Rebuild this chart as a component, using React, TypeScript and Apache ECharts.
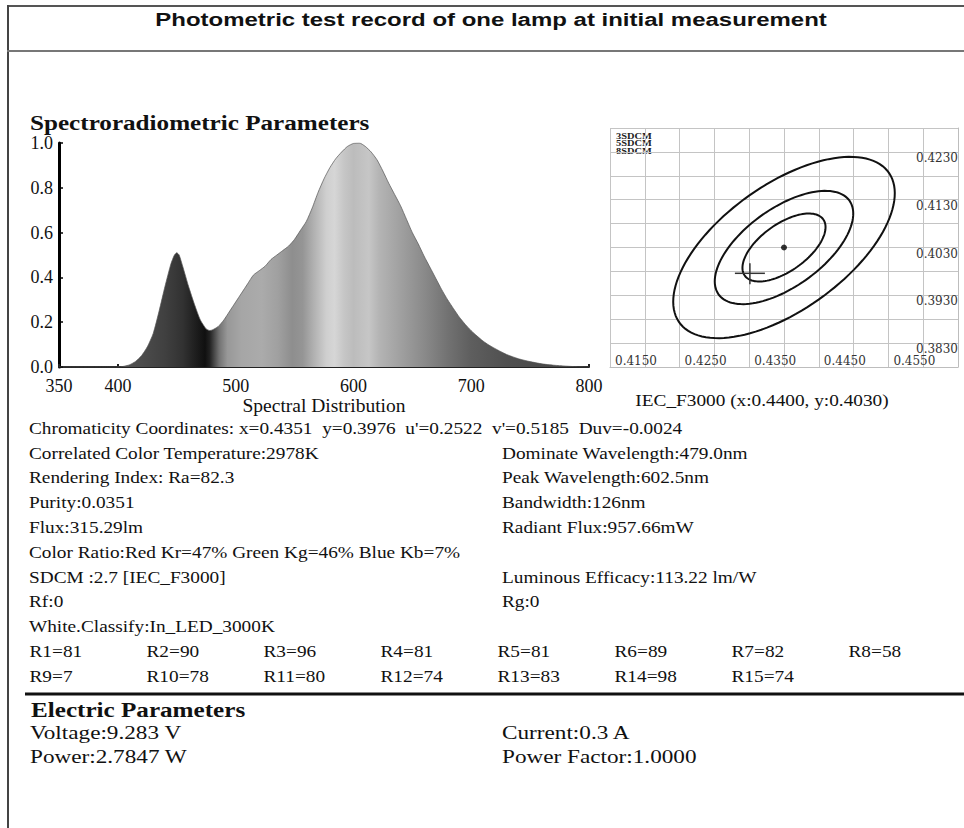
import React, { useEffect, useRef } from 'react';
import * as echarts from 'echarts';

// ---------- data ----------
const wavelengths = [350, 390, 400, 405, 410, 415, 420, 425, 430, 435, 440, 445, 448, 450, 452, 455, 460, 465, 470, 475, 478, 480, 485, 490, 495, 500, 505, 510, 515, 520, 525, 530, 535, 540, 545, 550, 555, 560, 565, 570, 575, 580, 585, 590, 595, 600, 605, 610, 615, 620, 625, 630, 635, 640, 645, 650, 655, 660, 665, 670, 675, 680, 685, 690, 695, 700, 705, 710, 715, 720, 725, 730, 735, 740, 745, 750, 760, 770, 780, 790, 800];
const intensities = [0, 0, 0, 0.003, 0.01, 0.025, 0.05, 0.09, 0.15, 0.25, 0.36, 0.46, 0.5, 0.51, 0.5, 0.45, 0.36, 0.28, 0.21, 0.17, 0.163, 0.165, 0.18, 0.21, 0.25, 0.29, 0.33, 0.37, 0.41, 0.43, 0.45, 0.48, 0.5, 0.52, 0.54, 0.57, 0.61, 0.65, 0.71, 0.78, 0.84, 0.89, 0.93, 0.96, 0.985, 0.998, 1.0, 0.985, 0.96, 0.925, 0.875, 0.82, 0.77, 0.72, 0.66, 0.6, 0.55, 0.495, 0.445, 0.395, 0.345, 0.3, 0.26, 0.222, 0.19, 0.162, 0.138, 0.116, 0.098, 0.083, 0.069, 0.056, 0.046, 0.037, 0.03, 0.024, 0.014, 0.008, 0.004, 0.001, 0];
const spectrumXLabels = [350, 400, 500, 600, 700, 800];

const ellipseCenter = [0.44, 0.403];
const ellipseA = 0.00278; // per SDCM step
const ellipseB = 0.00136;
const ellipseThetaDeg = 53.2;
const sdcmSteps = [3, 5, 8];
const sdcmLabels = ['3SDCM', '5SDCM', '8SDCM'];
const measuredPoint = [0.4351, 0.3976];

const titleText = 'Photometric test record of one lamp at initial measurement';
const spectroHeading = 'Spectroradiometric Parameters';
const electricHeading = 'Electric Parameters';
const targetLabel = 'IEC_F3000 (x:0.4400, y:0.4030)';

const leftLines = [
  "Chromaticity Coordinates: x=0.4351  y=0.3976  u'=0.2522  v'=0.5185  Duv=-0.0024",
  'Correlated Color Temperature:2978K',
  'Rendering Index: Ra=82.3',
  'Purity:0.0351',
  'Flux:315.29lm',
  'Color Ratio:Red Kr=47% Green Kg=46% Blue Kb=7%',
  'SDCM :2.7 [IEC_F3000]',
  'Rf:0',
  'White.Classify:In_LED_3000K',
];
const rightLines: [number, string][] = [
  [1, 'Dominate Wavelength:479.0nm'],
  [2, 'Peak Wavelength:602.5nm'],
  [3, 'Bandwidth:126nm'],
  [4, 'Radiant Flux:957.66mW'],
  [6, 'Luminous Efficacy:113.22 lm/W'],
  [7, 'Rg:0'],
];
const rValues = [81, 90, 96, 81, 81, 89, 82, 58, 7, 78, 80, 74, 83, 98, 74];
const electricLeft = ['Voltage:9.283 V', 'Power:2.7847 W'];
const electricRight = ['Current:0.3 A', 'Power Factor:1.0000'];

// ---------- styles ----------
const serif = '"Liberation Serif", "Times New Roman", serif';
const sans = '"Liberation Sans", Arial, sans-serif';
const gradNm = [350, 400, 420, 440, 455, 466, 474, 478, 486, 493, 505, 522, 536, 548, 557, 566, 577, 584, 592, 600, 613, 622, 640, 660, 680, 700, 730, 800];
const gradGray = [0x55, 0x55, 0x4c, 0x40, 0x32, 0x1e, 0x10, 0x22, 0x72, 0x98, 0xa6, 0xab, 0xa0, 0x8e, 0x95, 0xb0, 0xcf, 0xd6, 0xc6, 0xbc, 0xc6, 0xb4, 0xa0, 0x8a, 0x72, 0x5e, 0x50, 0x44];

function gray(v: number) {
  const h = v.toString(16).padStart(2, '0');
  return '#' + h + h + h;
}

function txt(text: string, x: number, y: number, size: number, o: any = {}) {
  const align = o.align || 'left';
  return {
    type: 'text',
    x,
    y,
    scaleX: o.scaleX ?? 1.17,
    silent: true,
    style: {
      text,
      fontSize: size,
      fontFamily: o.family || serif,
      fontWeight: o.weight || 'normal',
      fill: o.fill || '#111',
      align,
      textAlign: align,
      verticalAlign: 'middle',
      textVerticalAlign: 'middle',
    },
  };
}

function hline(x1: number, x2: number, y: number, color: string, w: number) {
  return { type: 'line', silent: true, shape: { x1, y1: y, x2, y2: y }, style: { stroke: color, lineWidth: w } };
}
function vline(x: number, y1: number, y2: number, color: string, w: number) {
  return { type: 'line', silent: true, shape: { x1: x, y1, x2: x, y2 }, style: { stroke: color, lineWidth: w } };
}

function buildGraphic() {
  const g: any[] = [];
  g.push(hline(7, 964, 6, '#555', 2));
  g.push(vline(8, 5, 828, '#444', 2));
  g.push(hline(7, 964, 51, '#777', 2));
  g.push(hline(25, 964, 694, '#111', 3));

  g.push(txt(titleText, 491, 19, 19, { family: sans, weight: 'bold', align: 'center', scaleX: 1.263 }));
  g.push(txt(spectroHeading, 30, 123, 21.5, { weight: 'bold', scaleX: 1.17 }));
  g.push(txt(targetLabel, 762, 400, 16.5, { align: 'center' }));

  sdcmLabels.forEach((s, i) => {
    g.push(txt(s, 616, 136 + i * 7.8, 8, { scaleX: 1.3, fill: '#222', weight: 'bold' }));
  });

  const row0 = 428.3;
  const rowStep = 24.8;
  leftLines.forEach((line, i) => {
    g.push(txt(line, 29, row0 + i * rowStep, 16.5));
  });
  rightLines.forEach(([i, line]) => {
    g.push(txt(line, 502, row0 + i * rowStep, 16.5));
  });
  rValues.forEach((v, i) => {
    const row = i < 8 ? 9 : 10;
    const col = i < 8 ? i : i - 8;
    g.push(txt('R' + (i + 1) + '=' + v, 29.5 + col * 117, row0 + row * rowStep, 16.5));
  });

  g.push(txt(electricHeading, 31, 710, 21.5, { weight: 'bold', scaleX: 1.17 }));
  electricLeft.forEach((s, i) => g.push(txt(s, 30, 733 + i * 24, 19.5, { scaleX: 1.19 })));
  electricRight.forEach((s, i) => g.push(txt(s, 502, 733 + i * 24, 19.5, { scaleX: 1.19 })));
  return g;
}

function buildOption() {
  const specData = wavelengths.map((w, i) => [w, intensities[i]]);
  const span = wavelengths[wavelengths.length - 1] - wavelengths[0];
  const stops = gradNm.map((nm, i) => ({ offset: (nm - wavelengths[0]) / span, color: gray(gradGray[i]) }));
  const th = (ellipseThetaDeg * Math.PI) / 180;

  return {
    animation: false,
    backgroundColor: '#ffffff',
    graphic: buildGraphic(),
    grid: [
      { left: 59, top: 143, width: 530, height: 224 },
      { left: 610, top: 128, width: 348, height: 239 },
    ],
    xAxis: [
      {
        type: 'value',
        gridIndex: 0,
        min: 350,
        max: 800,
        interval: 50,
        name: 'Spectral Distribution',
        nameLocation: 'middle',
        nameGap: 27,
        nameTextStyle: { fontFamily: serif, fontSize: 19.5, color: '#111' },
        axisLine: { show: true, lineStyle: { color: '#222', width: 2 } },
        axisTick: { show: true, inside: true, length: 3, lineStyle: { color: '#222', width: 2 } },
        splitLine: { show: false },
        axisLabel: {
          margin: 10,
          fontFamily: serif,
          fontSize: 18,
          color: '#111',
          showMinLabel: true,
          showMaxLabel: true,
          formatter: (v: number) => (spectrumXLabels.indexOf(Math.round(v)) >= 0 ? String(Math.round(v)) : ''),
        },
      },
      {
        type: 'value',
        gridIndex: 1,
        min: 0.415,
        max: 0.465,
        interval: 0.005,
        axisLine: { show: true, lineStyle: { color: '#bdbdbd', width: 1 } },
        axisTick: { show: false },
        splitLine: { show: true, lineStyle: { color: '#c4c4c4', width: 1 } },
        axisLabel: {
          inside: true,
          margin: 0,
          align: 'left',
          padding: [0, 0, 0, 5],
          fontFamily: '"DejaVu Serif", serif',
          fontSize: 12,
          color: '#333',
          showMinLabel: true,
          showMaxLabel: true,
          formatter: (v: number) => {
            const k = Math.round((v - 0.415) / 0.005);
            return k % 2 === 0 && k < 10 ? v.toFixed(4) : '';
          },
        },
      },
    ],
    yAxis: [
      {
        type: 'value',
        gridIndex: 0,
        min: 0,
        max: 1,
        interval: 0.2,
        axisLine: { show: true, lineStyle: { color: '#000', width: 3 } },
        axisTick: { show: true, inside: true, length: 4, lineStyle: { color: '#000', width: 1.5 } },
        splitLine: { show: false },
        axisLabel: {
          margin: 6,
          fontFamily: serif,
          fontSize: 18,
          color: '#111',
          formatter: (v: number) => v.toFixed(1),
        },
      },
      {
        type: 'value',
        gridIndex: 1,
        position: 'right',
        min: 0.378,
        max: 0.428,
        interval: 0.005,
        axisLine: { show: true, lineStyle: { color: '#bdbdbd', width: 1 } },
        axisTick: { show: false },
        splitLine: { show: true, lineStyle: { color: '#c4c4c4', width: 1 } },
        axisLabel: {
          inside: true,
          margin: 0,
          verticalAlign: 'top',
          fontFamily: '"DejaVu Serif", serif',
          fontSize: 12,
          color: '#333',
          showMinLabel: true,
          showMaxLabel: true,
          formatter: (v: number) => {
            const k = Math.round((v - 0.378) / 0.005);
            return k % 2 === 1 ? v.toFixed(4) : '';
          },
        },
      },
    ],
    series: [
      {
        type: 'line',
        xAxisIndex: 0,
        yAxisIndex: 0,
        data: specData,
        symbol: 'none',
        smooth: 0.2,
        lineStyle: { width: 1, color: '#555', opacity: 0.7 },
        areaStyle: {
          opacity: 1,
          color: new echarts.graphic.LinearGradient(0, 0, 1, 0, stops),
        },
        z: 2,
      },
      {
        type: 'custom',
        xAxisIndex: 1,
        yAxisIndex: 1,
        data: sdcmSteps.map((s) => [ellipseCenter[0], ellipseCenter[1], s]),
        clip: false,
        renderItem: (params: any, api: any) => {
          const cx = api.value(0);
          const cy = api.value(1);
          const n = api.value(2);
          const a = ellipseA * n;
          const b = ellipseB * n;
          const pts: number[][] = [];
          for (let i = 0; i < 120; i++) {
            const t = (i / 120) * Math.PI * 2;
            const dx = a * Math.cos(t);
            const dy = b * Math.sin(t);
            pts.push(api.coord([cx + dx * Math.cos(th) - dy * Math.sin(th), cy + dx * Math.sin(th) + dy * Math.cos(th)]));
          }
          return { type: 'polygon', shape: { points: pts }, style: { fill: 'none', stroke: '#111', lineWidth: 2 } };
        },
        z: 3,
      },
      {
        type: 'scatter',
        xAxisIndex: 1,
        yAxisIndex: 1,
        data: [ellipseCenter],
        symbolSize: 6,
        itemStyle: { color: '#000' },
        z: 4,
      },
      {
        type: 'custom',
        xAxisIndex: 1,
        yAxisIndex: 1,
        data: [measuredPoint],
        renderItem: (params: any, api: any) => {
          const p = api.coord([api.value(0), api.value(1)]);
          return {
            type: 'group',
            children: [
              { type: 'line', shape: { x1: p[0] - 15, y1: p[1], x2: p[0] + 15, y2: p[1] }, style: { stroke: '#333', lineWidth: 1.5 } },
              { type: 'line', shape: { x1: p[0], y1: p[1] - 10, x2: p[0], y2: p[1] + 11 }, style: { stroke: '#333', lineWidth: 1.5 } },
            ],
          };
        },
        z: 4,
      },
    ],
  };
}

export default function App() {
  const ref = useRef<HTMLDivElement>(null);
  useEffect(() => {
    if (!ref.current) return;
    const chart = echarts.init(ref.current, undefined, { renderer: 'svg' });
    chart.setOption(buildOption() as any);
    return () => chart.dispose();
  }, []);
  return (
    <div
      ref={ref}
      style={{ position: 'fixed', left: 0, top: 0, width: 964, height: 828, background: '#fff' }}
    />
  );
}
